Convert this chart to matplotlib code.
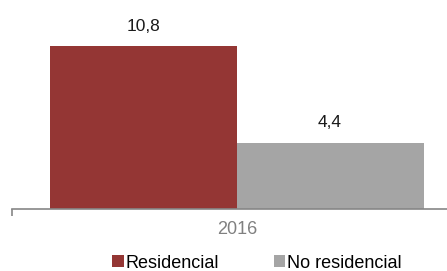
import matplotlib.pyplot as plt
from matplotlib.patches import Patch

plt.rcParams['font.family'] = ['Liberation Sans', 'DejaVu Sans']

categories = ["2016"]
series = ["Residencial", "No residencial"]
values = [10.8, 4.4]
labels = ["10,8", "4,4"]
colors = ["#943634", "#A5A5A5"]

fig = plt.figure(figsize=(4.47, 2.71), dpi=100)
ax = fig.add_axes([12 / 447, 62 / 271, 440 / 447, 181 / 271])

# bar positions in pixel-like units around the category centre
width = 187
offsets = [-94, 93]
for v, lab, c, off in zip(values, labels, colors, offsets):
    ax.bar(off, v, width=width, color=c, align="center")
    ax.annotate(lab, (off, v), xytext=(0, 9), textcoords="offset points",
                ha="center", va="bottom", fontsize=12.5, color="#1a1a1a")

ax.set_xlim(-225, 215)
ax.set_ylim(0, 12)
ax.set_yticks([])
for s in ["top", "right", "left"]:
    ax.spines[s].set_visible(False)
ax.spines["bottom"].set_color("#868686")
ax.spines["bottom"].set_linewidth(1.2)

ax.set_xticks([-225])
ax.set_xticklabels([""])
ax.tick_params(axis="x", which="major", length=5, color="#868686", width=1.2)
ax.set_xticks([0], minor=True)
ax.set_xticklabels(categories, minor=True, fontsize=13, color="#808080")
ax.tick_params(axis="x", which="minor", length=0, pad=9)

handles = [Patch(facecolor=c, edgecolor="none") for c in colors]
fig.legend(handles, series, loc="center", bbox_to_anchor=(257 / 447, 8 / 271),
           ncol=2, frameon=False, fontsize=13, handlelength=0.65, handleheight=0.65,
           handletextpad=0.1, columnspacing=3.0, borderpad=0)

fig.savefig("out.png", dpi=100)
